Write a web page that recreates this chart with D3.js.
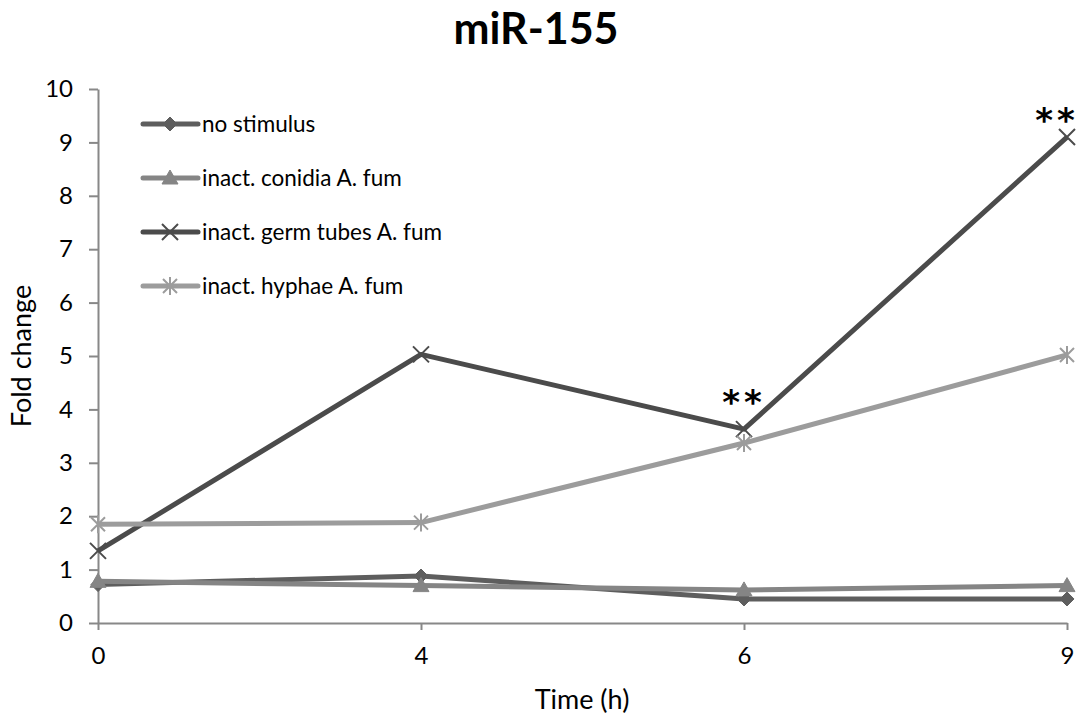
<!DOCTYPE html>
<html lang="en">
<head>
<meta charset="utf-8">
<script src="https://d3js.org/d3.v7.min.js"></script>
<style>
  body { margin: 0; background: #fff; }
  text { font-family: Lato, "Open Sans", sans-serif; fill: #000; }
</style>
</head>
<body>
<div id="chart"></div>
<script>
// categories on the x axis (hours)
var times = ["0", "4", "6", "9"];
var yTicks = [0, 1, 2, 3, 4, 5, 6, 7, 8, 9, 10];

// series values
var noStimulus = [0.72, 0.88, 0.45, 0.45];
var conidia = [0.78, 0.70, 0.62, 0.70];
var germTubes = [1.35, 5.03, 3.63, 9.10];
var hyphae = [1.85, 1.88, 3.37, 5.02];

var seriesNames = ["no stimulus", "inact. conidia A. fum", "inact. germ tubes A. fum", "inact. hyphae A. fum"];
var seriesValues = [noStimulus, conidia, germTubes, hyphae];
var seriesColors = ["#5e5e5e", "#858585", "#4b4b4b", "#9c9c9c"];
var seriesMarkers = ["diamond", "triangle", "cross", "star"];

// significance marks (on the germ tubes series)
var sigLabels = ["**", "**"];
var sigIndex = [2, 3];

let width = 1081;
let height = 715;
let margin = {left: 98, right: 14, top: 89, bottom: 92};

let svg = d3.select("#chart")
    .append("svg")
    .attr("width", width)
    .attr("height", height);

let x = d3.scalePoint()
    .domain(times)
    .range([margin.left, width - margin.right]);

let y = d3.scaleLinear()
    .domain([0, 10])
    .range([height - margin.bottom, margin.top]);

// axes
let xAxis = svg.append("g")
    .attr("transform", "translate(0," + y(0) + ")")
    .call(d3.axisBottom(x).tickSizeInner(7).tickSizeOuter(0).tickPadding(17));
let yAxis = svg.append("g")
    .attr("transform", "translate(" + margin.left + ",0)")
    .call(d3.axisLeft(y).tickValues(yTicks).tickSizeInner(9).tickSizeOuter(0).tickPadding(16));

[xAxis, yAxis].forEach(function (g) {
    g.select(".domain").attr("stroke", "#888").attr("stroke-width", 2);
    g.selectAll(".tick line").attr("stroke", "#888").attr("stroke-width", 2);
    g.selectAll(".tick text").style("font-size", "24px").style("font-family", "Lato, sans-serif").attr("fill", "#000");
});

// marker shapes
function markerPath(type, cx, cy) {
    if (type === "diamond") {
        return "M" + cx + "," + (cy - 7) + "L" + (cx + 7) + "," + cy + "L" + cx + "," + (cy + 7) + "L" + (cx - 7) + "," + cy + "Z";
    }
    if (type === "triangle") {
        return "M" + cx + "," + (cy - 8) + "L" + (cx + 8) + "," + (cy + 6) + "L" + (cx - 8) + "," + (cy + 6) + "Z";
    }
    if (type === "cross") {
        return "M" + (cx - 8) + "," + (cy - 8) + "L" + (cx + 8) + "," + (cy + 8) +
            "M" + (cx - 8) + "," + (cy + 8) + "L" + (cx + 8) + "," + (cy - 8);
    }
    // star: cross plus vertical bar
    return "M" + (cx - 7) + "," + (cy - 7) + "L" + (cx + 7) + "," + (cy + 7) +
        "M" + (cx - 7) + "," + (cy + 7) + "L" + (cx + 7) + "," + (cy - 7) +
        "M" + cx + "," + (cy - 9) + "L" + cx + "," + (cy + 9);
}

function drawMarker(g, type, color, cx, cy) {
    let filled = (type === "diamond" || type === "triangle");
    g.append("path")
        .attr("d", markerPath(type, cx, cy))
        .attr("fill", filled ? color : "none")
        .attr("stroke", color)
        .attr("stroke-width", filled ? 1 : 2);
}

let line = d3.line()
    .x(function (d, i) { return x(times[i]); })
    .y(function (d) { return y(d); });

seriesValues.forEach(function (vals, s) {
    let g = svg.append("g");
    g.append("path")
        .datum(vals)
        .attr("d", line)
        .attr("fill", "none")
        .attr("stroke", seriesColors[s])
        .attr("stroke-width", 5)
        .attr("stroke-linejoin", "round");
    vals.forEach(function (v, i) {
        drawMarker(g, seriesMarkers[s], seriesColors[s], x(times[i]), y(v));
    });
});

// significance asterisks above germ tubes
sigIndex.forEach(function (idx, k) {
    let last = idx === times.length - 1;
    let cx = x(times[idx]) - (last ? 10 : 0);
    let cy = y(germTubes[idx]) - (last ? 25 : 35);
    svg.append("text")
        .attr("x", cx)
        .attr("y", cy + 20)
        .attr("text-anchor", "middle")
        .style("font-family", "'DejaVu Sans', sans-serif")
        .style("font-size", "34px")
        .style("font-weight", "bold")
        .style("letter-spacing", "4px")
        .text(sigLabels[k]);
});

// legend
let legend = svg.append("g");
seriesNames.forEach(function (name, s) {
    let ly = 124 + s * 54;
    legend.append("line")
        .attr("x1", 143).attr("x2", 198)
        .attr("y1", ly).attr("y2", ly)
        .attr("stroke", seriesColors[s])
        .attr("stroke-width", 5)
        .attr("stroke-linecap", "round");
    drawMarker(legend, seriesMarkers[s], seriesColors[s], 170, ly);
    legend.append("text")
        .attr("x", 202)
        .attr("y", ly)
        .attr("dy", "0.35em")
        .style("font-size", "22.5px")
        .text(name);
});

// title and axis labels
svg.append("text")
    .attr("x", 536)
    .attr("y", 44)
    .attr("text-anchor", "middle")
    .style("font-size", "43px")
    .style("font-weight", "bold")
    .text("miR-155");

svg.append("text")
    .attr("x", 582)
    .attr("y", 709)
    .attr("text-anchor", "middle")
    .style("font-size", "27px")
    .text("Time (h)");

svg.append("text")
    .attr("transform", "translate(22," + y(5) + ") rotate(-90)")
    .attr("text-anchor", "middle")
    .attr("dy", "0.35em")
    .style("font-size", "27px")
    .text("Fold change");
</script>
</body>
</html>
